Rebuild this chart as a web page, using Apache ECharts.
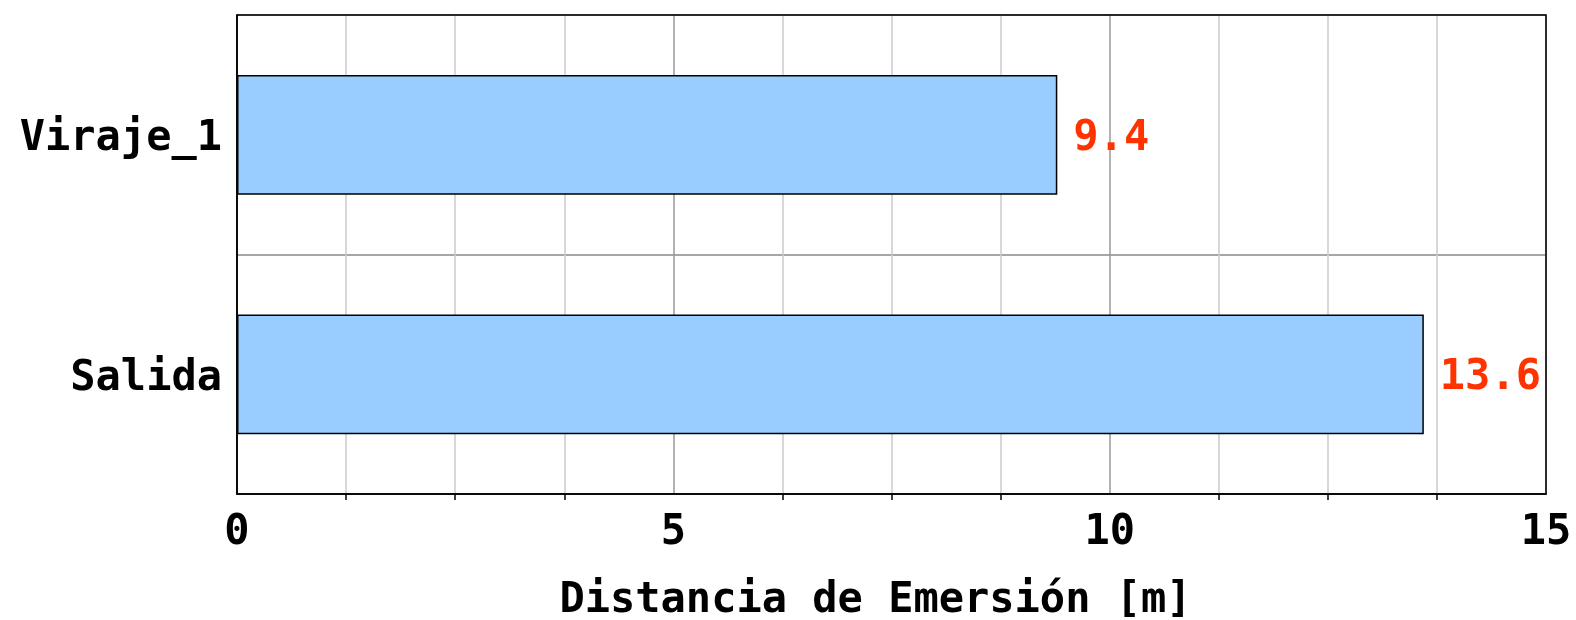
<!DOCTYPE html>
<html>
<head>
<meta charset="utf-8">
<script src="https://cdn.jsdelivr.net/npm/echarts@6/dist/echarts.min.js"></script>
<style>html,body{margin:0;padding:0;background:#fff}#c{width:1576px;height:620px}</style>
</head>
<body>
<div id="c"></div>
<script>
const categories = ['Salida', 'Viraje_1'];
const values = [13.6, 9.4];
const xTicks = [0, 5, 10, 15];
const xName = 'Distancia de Emersión [m]';

const FONT = '"DejaVu Sans Mono", monospace';
const FS = 42;
const chart = echarts.init(document.getElementById('c'));
chart.setOption({
  animation: false,
  grid: {left: 237, right: 30, top: 15, bottom: 126, outerBoundsMode: 'none', containLabel: false,
    show: true, borderColor: '#000', borderWidth: 1.5, backgroundColor: 'transparent', z: 5},
  xAxis: {
    type: 'value', min: xTicks[0], max: xTicks[xTicks.length - 1], interval: 5,
    name: xName, nameLocation: 'middle', nameGap: 86,
    nameTextStyle: {fontFamily: FONT, fontWeight: 'bold', fontSize: FS, color: '#000', padding: [0, 32, 0, 0]},
    axisLine: {show: true, lineStyle: {color: '#000', width: 1.5}},
    axisTick: {show: false},
    minorTick: {show: true, splitNumber: 4, length: 6, lineStyle: {color: '#000', width: 1.5}},
    splitLine: {show: true, lineStyle: {color: '#999', width: 1.5}},
    minorSplitLine: {show: true, lineStyle: {color: '#ccc', width: 1.5}},
    axisLabel: {fontFamily: FONT, fontWeight: 'bold', fontSize: FS, color: '#000', margin: 18}
  },
  yAxis: {
    type: 'category', data: categories,
    axisLine: {show: true, lineStyle: {color: '#000', width: 1.5}},
    axisTick: {show: false},
    splitLine: {show: true, lineStyle: {color: '#888', width: 1.5}},
    axisLabel: {margin: 15, formatter: v => '{a|' + v + '}',
      rich: {a: {fontFamily: FONT, fontWeight: 'bold', fontSize: FS, color: '#000', padding: [9, 0, 0, 0]}}}
  },
  series: [{
    type: 'bar', data: values, barWidth: '50%',
    itemStyle: {color: '#99ccff', borderColor: '#000', borderWidth: 1.5},
    label: {show: true, position: 'right', distance: 16, offset: [0, 4], formatter: p => p.value.toFixed(1),
      fontFamily: FONT, fontWeight: 'bold', fontSize: FS, color: '#ff3300'}
  }]
});
</script>
</body>
</html>
